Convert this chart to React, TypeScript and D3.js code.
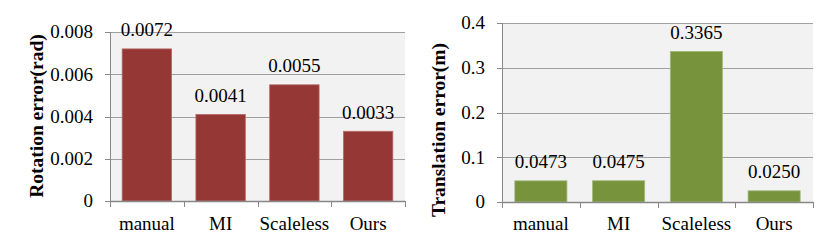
import React, { useEffect, useRef } from 'react';
import * as d3 from 'd3';

const categories = ['manual', 'MI', 'Scaleless', 'Ours'];
const rotationErr = [0.0072, 0.0041, 0.0055, 0.0033];
const translationErr = [0.0473, 0.0475, 0.3365, 0.025];
const rotationTicks = [0, 0.002, 0.004, 0.006, 0.008];
const translationTicks = [0, 0.1, 0.2, 0.3, 0.4];

interface PanelCfg {
  values: number[];
  ticks: number[];
  max: number;
  title: string;
  color: string;
  edge: string;
  x0: number;
  x1: number;
  y0: number;
  y1: number;
  titleX: number;
  titleY: number;
}

const panels: PanelCfg[] = [
  {
    values: rotationErr, ticks: rotationTicks, max: 0.008,
    title: 'Rotation error(rad)', color: '#953735', edge: '#b86a68',
    x0: 110, x1: 405, y0: 32, y1: 201, titleX: 43, titleY: 116,
  },
  {
    values: translationErr, ticks: translationTicks, max: 0.4,
    title: 'Translation error(m)', color: '#77933c', edge: '#a2b97a',
    x0: 502, x1: 813, y0: 23, y1: 202, titleX: 445, titleY: 130,
  },
];

const FONT = "'Liberation Serif', Tinos, 'Times New Roman', Times, serif";

const App: React.FC = () => {
  const svgRef = useRef<SVGSVGElement>(null);

  useEffect(() => {
    document.body.style.margin = '0';
    if (!svgRef.current) return;
    const svg = d3.select(svgRef.current);
    svg.selectAll('*').remove();

    svg.append('rect').attr('width', 830).attr('height', 246).attr('fill', '#fff');

    panels.forEach((p) => {
      const x = d3.scaleBand<string>()
        .domain(categories)
        .range([p.x0, p.x1])
        .paddingInner(0.33)
        .paddingOuter(0.165);
      const y = d3.scaleLinear().domain([0, p.max]).range([p.y1, p.y0]);
      const step = x.step();

      const g = svg.append('g').style('font-family', FONT);

      // plot background
      g.append('rect')
        .attr('x', p.x0).attr('y', p.y0)
        .attr('width', p.x1 - p.x0).attr('height', p.y1 - p.y0)
        .attr('fill', '#f2f2f2');

      // gridlines
      g.selectAll('line.grid')
        .data(p.ticks.filter((t) => t > 0))
        .enter().append('line')
        .attr('x1', p.x0).attr('x2', p.x1)
        .attr('y1', (d) => Math.round(y(d)) + 0.5).attr('y2', (d) => Math.round(y(d)) + 0.5)
        .attr('stroke', '#a0a0a0').attr('stroke-width', 1);

      // y tick marks
      g.selectAll('line.ytick')
        .data(p.ticks)
        .enter().append('line')
        .attr('x1', p.x0 - 5).attr('x2', p.x0)
        .attr('y1', (d) => Math.round(y(d)) + 0.5).attr('y2', (d) => Math.round(y(d)) + 0.5)
        .attr('stroke', '#888').attr('stroke-width', 1);

      // y tick labels
      g.selectAll('text.ytick')
        .data(p.ticks)
        .enter().append('text')
        .attr('x', p.x0 - 17)
        .attr('y', (d) => y(d))
        .attr('dy', '0.34em')
        .attr('text-anchor', 'end')
        .style('font-size', '19px')
        .attr('fill', '#000')
        .text((d) => (d === 0 ? '0' : String(d)));

      // bars
      g.selectAll('rect.bar')
        .data(p.values)
        .enter().append('rect')
        .attr('x', (_, i) => x(categories[i])!)
        .attr('y', (d) => y(d))
        .attr('width', x.bandwidth())
        .attr('height', (d) => p.y1 - y(d))
        .attr('fill', p.color)
        .attr('stroke', p.edge).attr('stroke-width', 0.8);

      // value labels
      g.selectAll('text.val')
        .data(p.values)
        .enter().append('text')
        .attr('x', (_, i) => x(categories[i])! + x.bandwidth() / 2)
        .attr('y', (d) => y(d) - 12.5)
        .attr('text-anchor', 'middle')
        .style('font-size', '19px')
        .text((d) => d.toFixed(4));

      // axes lines
      g.append('line')
        .attr('x1', p.x0 + 0.5).attr('x2', p.x0 + 0.5)
        .attr('y1', p.y0).attr('y2', p.y1)
        .attr('stroke', '#888');
      g.append('line')
        .attr('x1', p.x0).attr('x2', p.x1)
        .attr('y1', p.y1 + 0.5).attr('y2', p.y1 + 0.5)
        .attr('stroke', '#888').attr('stroke-width', 1.5);

      // category separators
      g.selectAll('line.xtick')
        .data(d3.range(categories.length + 1))
        .enter().append('line')
        .attr('x1', (i) => Math.round(p.x0 + i * step) + 0.5)
        .attr('x2', (i) => Math.round(p.x0 + i * step) + 0.5)
        .attr('y1', p.y1).attr('y2', p.y1 + 6)
        .attr('stroke', '#888');

      // category labels
      g.selectAll('text.cat')
        .data(categories)
        .enter().append('text')
        .attr('x', (d) => x(d)! + x.bandwidth() / 2)
        .attr('y', 230)
        .attr('text-anchor', 'middle')
        .style('font-size', '19px')
        .text((d) => d);

      // axis title
      g.append('text')
        .attr('transform', `translate(${p.titleX}, ${p.titleY}) rotate(-90)`)
        .attr('text-anchor', 'middle')
        .style('font-size', '19.5px')
        .style('font-weight', 'bold')
        .text(p.title);
    });
  }, []);

  return <svg ref={svgRef} width={830} height={246} style={{ display: 'block' }} />;
};

export default App;
